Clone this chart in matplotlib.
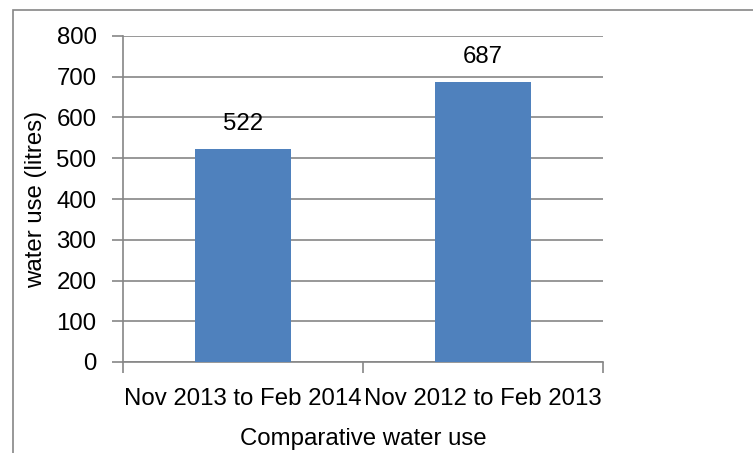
import matplotlib.pyplot as plt
from matplotlib.patches import Rectangle

plt.rcParams['font.family'] = ['Liberation Sans', 'DejaVu Sans']

periods = ['Nov 2013 to Feb 2014', 'Nov 2012 to Feb 2013']
water_use = [522, 687]
y_ticks = [0, 100, 200, 300, 400, 500, 600, 700, 800]

grey = '#868686'
fs = 17.3

fig = plt.figure(figsize=(7.53, 4.53), dpi=100)
# chart border (left and top visible)
fig.patches.append(Rectangle((13 / 753, -0.1), 1.2, 1.1 - 10 / 453, transform=fig.transFigure,
                             fill=False, edgecolor=grey, linewidth=1.2))

ax = fig.add_axes([123 / 753, 1 - 362 / 453, 480 / 753, 326 / 453])
pos = list(range(len(periods)))
bars = ax.bar(pos, water_use, width=0.4, color='#4F81BD', zorder=3)
ax.bar_label(bars, labels=[str(v) for v in water_use], padding=10, fontsize=fs)

ax.set_xlim(-0.5, len(periods) - 0.5)
ax.set_ylim(0, 800)
ax.set_yticks(y_ticks)
ax.yaxis.grid(True, color=grey, linewidth=1.2, zorder=0)
ax.set_axisbelow(True)

ax.set_xticks(pos)
ax.set_xticklabels(periods)
ax.set_xticks([p - 0.5 for p in range(len(periods) + 1)], minor=True)
ax.tick_params(axis='x', which='major', length=0, pad=19, labelsize=fs)
ax.tick_params(axis='x', which='minor', length=8, color=grey, width=1.2)
ax.tick_params(axis='y', length=8, color=grey, width=1.2, pad=11, labelsize=fs)

for s in ['top', 'right']:
    ax.spines[s].set_visible(False)
for s in ['left', 'bottom']:
    ax.spines[s].set_color(grey)
    ax.spines[s].set_linewidth(1.2)

ax.set_ylabel('water use (litres)', fontsize=fs, labelpad=7)
ax.set_xlabel('Comparative water use', fontsize=fs, labelpad=13)

fig.savefig('out.png', dpi=100)
